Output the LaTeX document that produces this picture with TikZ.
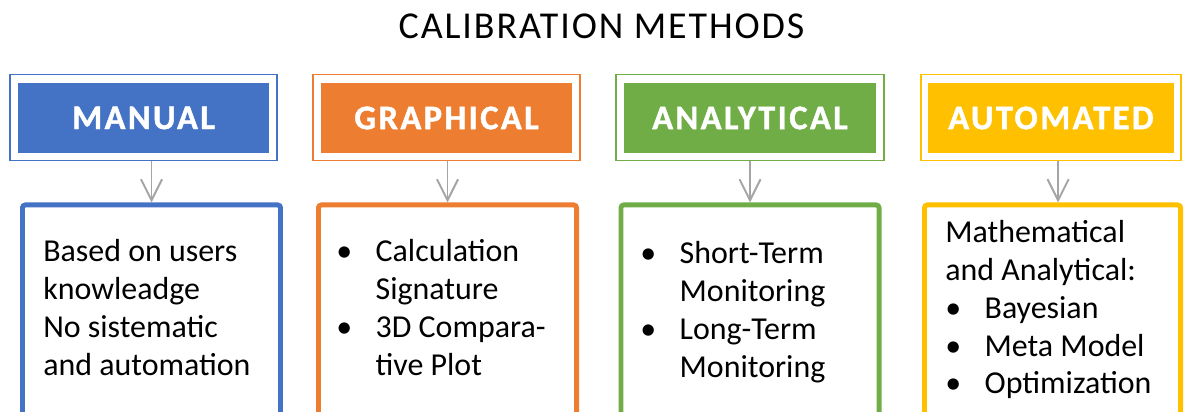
\documentclass[tikz,border=0pt]{standalone}
\usepackage{fontspec}
\setmainfont{Carlito}
\newfontfamily\titlefont[LetterSpace=5]{Carlito}
\newfontfamily\headfont[LetterSpace=7, FakeBold=1.2]{Carlito Bold}
\usetikzlibrary{arrows.meta, positioning}

\definecolor{manblue}{HTML}{4472C4}
\definecolor{graorange}{HTML}{ED7D31}
\definecolor{anagreen}{HTML}{70AD47}
\definecolor{autgold}{HTML}{FFC000}
\definecolor{arrgray}{HTML}{A5A5A5}

\newcommand{\bul}{\makebox[28pt][l]{\textbullet}}
\newcommand{\cont}{\hspace*{28pt}}

\begin{document}
\begin{tikzpicture}[x=0.025cm, y=-0.025cm]
            % Define styles
            \tikzstyle{frame} = [rectangle, line width=1.4pt, minimum width=6.675cm, minimum height=2.15cm, inner sep=0pt]
            \tikzstyle{head} = [rectangle, minimum width=6.275cm, minimum height=1.75cm, inner sep=0pt, text=white, font=\headfont\fontsize{24.5}{29}\selectfont]
            \tikzstyle{body} = [rectangle, line width=3.5pt, rounded corners=2pt, minimum width=6.45cm, minimum height=5.3cm, anchor=north, inner sep=0pt]
            \tikzstyle{txt} = [anchor=base west, align=left, inner sep=0pt, font=\fontsize{22.7}{27}\selectfont]
            \tikzstyle{arr} = [draw=arrgray, line width=1.4pt, -{Straight Barb[length=15pt, width=15pt, line width=1.4pt]}]

            \useasboundingbox (0,0) rectangle (1184,412);
            \clip (0,0) rectangle (1184,412);

            % Title
            \node[anchor=base, font=\titlefont\fontsize{27}{32}\selectfont] (title) at (601.5,39) {CALIBRATION METHODS};

            % Headers
            \node[frame, draw=manblue] (manFrame) at (143.5,117.5) {};
            \node[head, fill=manblue] (manHead) at (143.5,118) {MANUAL};

            \node[frame, draw=graorange] (graFrame) at (446.5,117.5) {};
            \node[head, fill=graorange] (graHead) at (446.5,118) {GRAPHICAL};

            \node[frame, draw=anagreen] (anaFrame) at (750,117.5) {};
            \node[head, fill=anagreen] (anaHead) at (750,118) {ANALYTICAL};

            \node[frame, draw=autgold, minimum width=6.5cm] (autFrame) at (1051,117.5) {};
            \node[head, fill=autgold, minimum width=6.15cm] (autHead) at (1051,118) {AUTOMATED};

            % Bodies
            \node[body, draw=manblue] (manBody) at (151.5,202.5) {};
            \node[body, draw=graorange] (graBody) at (447.5,202.5) {};
            \node[body, draw=anagreen] (anaBody) at (750,202.5) {};
            \node[body, draw=autgold, minimum width=6.4cm] (autBody) at (1052.5,202.5) {};

            % Body texts (base = last line)
            \node[txt] (manText) at (43,375) {Based on users\\knowleadge\\No sistematic\\and automation};
            \node[txt] (graText) at (336,375) {\bul Calculation\\\cont Signature\\\bul 3D Compara-\\\cont tive Plot};
            \node[txt] (anaText) at (640,377) {\bul Short-Term\\\cont Monitoring\\\bul Long-Term\\\cont Monitoring};
            \node[txt] (autText) at (945,394) {Mathematical\\and Analytical:\\\bul Bayesian\\\bul Meta Model\\\bul Optimization};

            % Connections
            \draw[arr] (manFrame.south -| manBody.north) -- (manBody.north);
            \draw[arr] (graFrame.south -| graBody.north) -- (graBody.north);
            \draw[arr] (anaFrame.south -| anaBody.north) -- (anaBody.north);
            \draw[arr] ([xshift=0.14cm]autFrame.south -| autBody.north) -- ([xshift=0.14cm]autBody.north);
\end{tikzpicture}
\end{document}
